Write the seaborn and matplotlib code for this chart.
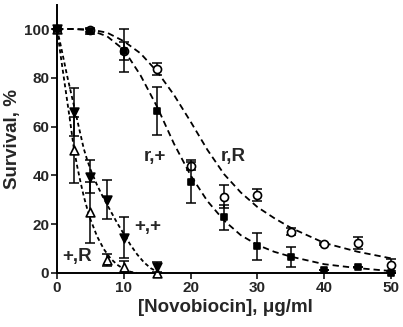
import matplotlib
matplotlib.use("Agg")
import matplotlib.pyplot as plt
import seaborn as sns
import pandas as pd

# ---- measured data points (mean, error) ----
x_rp = [0, 5, 10, 15, 20, 25, 30, 35, 40, 45, 50]
y_rp = [100, 99, 91, 66.4, 37.5, 22.8, 11, 6.7, 1.2, 2.6, 0.2]
e_rp = [0, 1, 8.8, 9.8, 9, 5, 5.5, 4.1, 0, 0, 0]

x_rR = [0, 5, 10, 15, 20, 25, 30, 35, 40, 45, 50]
y_rR = [100, 99.6, 91, 83.6, 43.8, 31.3, 32, 17, 11.9, 12.2, 3.3]
e_rR = [0, 1, 3.7, 2.3, 1.5, 4.7, 2.4, 1.5, 0.5, 2.4, 2.3]

x_pp = [0, 2.5, 5, 7.5, 10, 15]
y_pp = [100, 66, 39.5, 30, 14.5, 2.6]
e_pp = [0, 10, 6.8, 8, 8.5, 2]

x_pR = [0, 2.5, 5, 7.5, 10, 15]
y_pR = [100, 50.4, 24.8, 5.3, 2.6, 0]
e_pR = [0, 13.6, 12.6, 2.5, 2.5, 0]

# ---- fitted curves ----
cx_rp = [0, 2.5, 5, 7.5, 10, 12.5, 15, 17.5, 20, 22.5, 25, 27.5, 30, 32.5, 35, 40, 45, 50]
cy_rp = [100, 100, 99.5, 97, 91.5, 81, 68, 53, 40, 29.5, 21.5, 15.5, 11.5, 8.7, 6.7, 3.6, 2, 0.8]

cx_rR = [0, 2.5, 5, 7.5, 10, 12.5, 15, 17.5, 20, 22.5, 25, 27.5, 30, 32.5, 35, 40, 45, 50]
cy_rR = [100, 100, 99.8, 98.5, 95, 90, 82.5, 73, 62, 50.5, 40.5, 33, 27, 22.5, 18.5, 12.3, 8.7, 6]

cx_pp = [0, 0.5, 1, 1.5, 2, 2.5, 3, 3.5, 4, 4.5, 5, 6, 7, 8, 9, 10, 11, 12, 13, 14, 15]
cy_pp = [100, 94, 87.5, 81, 75, 69, 63, 57, 51, 46.5, 42.5, 36, 30.5, 25.5, 20.5, 16, 11.5, 7.6, 4.4, 2, 0.5]

cx_pR = [0, 0.5, 1, 1.5, 2, 2.5, 3, 3.5, 4, 4.5, 5, 6, 7, 8, 9, 10, 11, 12]
cy_pR = [100, 90, 80.5, 71, 61.5, 51.5, 44, 37.5, 31.5, 26.5, 22, 15, 9.8, 6, 3.4, 1.6, 0.5, 0]

labels = ["r,+", "r,R", "+,+", "+,R"]
label_pos = [(14.7, 47.6), (26.4, 47.6), (13.6, 18.9), (3.0, 6.7)]

sns.set_style("ticks")
plt.rcParams['font.family'] = ['Liberation Sans', 'DejaVu Sans']
plt.rcParams['font.weight'] = 'bold'

fig = plt.figure(figsize=(4.03, 3.27), dpi=100)
ax = fig.add_axes([57 / 403, (327 - 273) / 327, 337.5 / 403, 268.4 / 327])

curves = pd.concat([
    pd.DataFrame({"x": cx_rp, "y": cy_rp, "s": "r,+"}),
    pd.DataFrame({"x": cx_rR, "y": cy_rR, "s": "r,R"}),
    pd.DataFrame({"x": cx_pp, "y": cy_pp, "s": "+,+"}),
    pd.DataFrame({"x": cx_pR, "y": cy_pR, "s": "+,R"}),
])
sns.lineplot(data=curves, x="x", y="y", hue="s", style="s",
             palette={k: "black" for k in labels},
             dashes={"r,+": (3.5, 2.2), "r,R": (3.5, 2.2), "+,+": (2.2, 1.6), "+,R": (2.2, 1.6)},
             linewidth=1.3, legend=False, ax=ax, sort=False, zorder=2)

series = [
    (x_rR, y_rR, e_rR, "o", "white", 5.8),
    (x_pR, y_pR, e_pR, "^", "white", 6.3),
    (x_pp, y_pp, e_pp, "v", "black", 6.3),
    (x_rp, y_rp, e_rp, "s", "black", 5.0),
]
for i, (xs, ys, es, m, fc, ms) in enumerate(series):
    ax.errorbar(xs, ys, yerr=es, fmt="none", ecolor="black", elinewidth=1.1,
                capsize=3.5, capthick=1.1, zorder=3 + 2 * i, clip_on=False)
    df = pd.DataFrame({"x": xs, "y": ys})
    sns.scatterplot(data=df, x="x", y="y", marker=m, color=fc, edgecolor="black",
                    linewidth=1.2, s=ms ** 2, ax=ax, zorder=4 + 2 * i, clip_on=False, legend=False)

for lab, (lx, ly) in zip(labels, label_pos):
    ax.text(lx, ly, lab, ha="center", va="center", fontsize=13.5, fontweight="bold")

ax.set_xlim(0, 50.5)
ax.set_ylim(0, 110)
ax.set_xticks([0, 10, 20, 30, 40, 50])
ax.set_yticks([0, 20, 40, 60, 80, 100])
ax.tick_params(axis="both", direction="out", length=4, width=1.3, labelsize=11, pad=1.5)
for t in ax.get_xticklabels() + ax.get_yticklabels():
    t.set_fontweight("bold")
sns.despine(ax=ax)
for sp in ["left", "bottom"]:
    ax.spines[sp].set_linewidth(1.4)
    ax.spines[sp].set_color("black")

ax.set_xlabel("[Novobiocin], μg/ml", fontsize=13.5, fontweight="bold", labelpad=3)
ax.set_ylabel("Survival, %", fontsize=13.5, fontweight="bold", labelpad=2)

fig.savefig("out.png", dpi=100)
